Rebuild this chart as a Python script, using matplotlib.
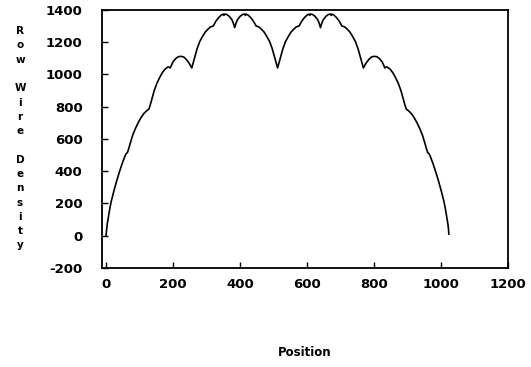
"""
Row wire density vs position.
"""

import matplotlib
matplotlib.use("Agg")
import matplotlib.pyplot as plt

# positions and densities
position = [
    0, 2, 4, 8, 12, 16, 24, 32, 40, 48, 56, 60, 64, 68, 72, 80, 88, 96, 104, 112,
    120, 128, 132, 136, 144, 152, 160, 168, 176, 184, 188, 192, 196, 200, 208, 216,
    224, 232, 240, 248, 252, 256, 260, 264, 272, 280, 288, 296, 304, 312, 320, 324,
    328, 336, 344, 350, 352, 354, 360, 368, 376, 380, 384, 388, 392, 400, 408, 414,
    416, 418, 424, 432, 440, 444, 448, 456, 464, 472, 480, 488, 496, 504, 508, 512,
    516, 520, 528, 536, 544, 552, 560, 568, 576, 580, 584, 592, 600, 606, 608, 610,
    616, 624, 632, 636, 640, 644, 648, 656, 664, 670, 672, 674, 680, 688, 696, 700,
    704, 712, 720, 728, 736, 744, 752, 760, 764, 768, 772, 776, 784, 792, 800, 808,
    816, 824, 828, 832, 836, 840, 848, 856, 864, 872, 880, 888, 892, 896, 904, 912,
    920, 928, 936, 944, 952, 956, 960, 964, 968, 976, 984, 992, 1000, 1008, 1012,
    1016, 1020, 1022, 1023,
]
density = [
    0, 40, 75, 125, 175, 215, 280, 340, 395, 445, 490, 508, 515, 540, 570, 625, 665, 700, 730, 755,
    772, 785, 810, 840, 900, 945, 980, 1010, 1032, 1045, 1046, 1040, 1060, 1078, 1098, 1110,
    1112, 1108, 1092, 1070, 1055, 1040, 1070, 1100, 1160, 1205, 1235, 1262, 1280, 1295, 1300, 1315,
    1330, 1352, 1368, 1374, 1366, 1374, 1372, 1360, 1338, 1318, 1290, 1318, 1338, 1360, 1372, 1374,
    1366, 1374, 1368, 1352, 1330, 1315, 1300, 1295, 1280, 1262, 1235, 1205, 1160, 1100, 1070, 1040,
    1070, 1100, 1160, 1205, 1235, 1262, 1280, 1295, 1300, 1315, 1330, 1352, 1368, 1374, 1366, 1374,
    1372, 1360, 1338, 1318, 1290, 1318, 1338, 1360, 1372, 1374, 1366, 1374, 1368, 1352, 1330, 1315,
    1300, 1295, 1280, 1262, 1235, 1205, 1160, 1100, 1070, 1040, 1055, 1070, 1092, 1108, 1112, 1110,
    1098, 1078, 1060, 1040, 1046, 1045, 1032, 1010, 980, 945, 900, 840, 810, 785, 772, 755,
    730, 700, 665, 625, 570, 540, 515, 508, 490, 445, 395, 340, 280, 215, 175,
    125, 75, 40, 10,
]

x_ticks = [0, 200, 400, 600, 800, 1000, 1200]
y_ticks = [-200, 0, 200, 400, 600, 800, 1000, 1200, 1400]
y_label = "Row Wire Density"

plt.rcParams["font.family"] = "DejaVu Sans"
plt.rcParams["font.weight"] = "bold"
plt.rcParams["axes.unicode_minus"] = False

fig = plt.figure(figsize=(5.31, 3.67), dpi=100)
ax = fig.add_axes([0.192, 0.270, 0.765, 0.703])

ax.plot(position, density, color="black", lw=1.2)

ax.set_xlim(-12, 1200)
ax.set_ylim(-200, 1400)
ax.set_xticks(x_ticks)
ax.set_yticks(y_ticks)
ax.tick_params(direction="in", length=4, width=1, labelsize=9.5, top=False, right=False)
ax.tick_params(axis="y", pad=14)
ax.tick_params(axis="x", pad=7)
for lab in ax.get_xticklabels() + ax.get_yticklabels():
    lab.set_fontweight("bold")
for side in ax.spines.values():
    side.set_linewidth(1.3)

ax.set_xlabel("Position", fontsize=8.5, fontweight="bold", labelpad=40)

# stacked vertical letters on the left
y0, step = 1 - 31 / 367, 14.3 / 367
for i, ch in enumerate(y_label):
    if ch != " ":
        fig.text(20 / 531, y0 - i * step, ch, ha="center", va="center",
                 fontsize=7.5, fontweight="bold")

plt.savefig("out.png", dpi=100)
plt.close()
